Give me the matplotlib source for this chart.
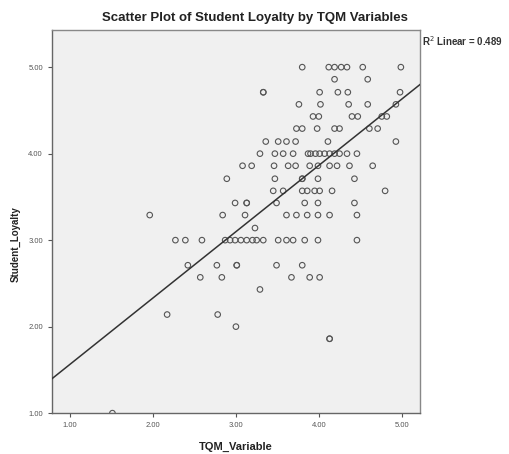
import numpy as np
import matplotlib
matplotlib.use("Agg")
import matplotlib.pyplot as plt

# Student loyalty levels (1/7 steps) and the TQM scores found on each level
loyalty_levels = [5.00, 4.86, 4.71, 4.57, 4.43, 4.29, 4.14, 4.00, 3.86, 3.71, 3.57,
                  3.43, 3.29, 3.14, 3.00, 2.71, 2.57, 2.43, 2.14, 2.00, 1.86, 1.00]
tqm_by_level = [
    [3.80, 4.12, 4.19, 4.27, 4.34, 4.53, 4.99],
    [4.19, 4.59],
    [3.33, 3.33, 4.01, 4.23, 4.35, 4.98],
    [3.76, 4.02, 4.36, 4.59, 4.93],
    [3.93, 4.00, 4.40, 4.47, 4.76, 4.82],
    [3.73, 3.80, 3.98, 4.19, 4.25, 4.61, 4.71],
    [3.36, 3.51, 3.61, 3.72, 4.11, 4.93],
    [3.29, 3.47, 3.57, 3.69, 3.87, 3.90, 3.96, 4.01, 4.07, 4.13, 4.19, 4.25, 4.34, 4.46],
    [3.08, 3.19, 3.46, 3.63, 3.72, 3.89, 3.99, 4.13, 4.22, 4.37, 4.65],
    [2.89, 3.47, 3.80, 3.80, 3.99, 4.43],
    [3.45, 3.57, 3.80, 3.86, 3.95, 4.01, 4.16, 4.80],
    [2.99, 3.13, 3.13, 3.49, 3.83, 3.99, 4.43],
    [1.96, 2.84, 3.11, 3.61, 3.73, 3.86, 3.99, 4.13, 4.46],
    [3.23],
    [2.27, 2.39, 2.59, 2.87, 2.93, 2.99, 3.06, 3.13, 3.20, 3.25, 3.33, 3.51, 3.61,
     3.69, 3.83, 3.99, 4.46],
    [2.42, 2.77, 3.01, 3.01, 3.49, 3.80],
    [2.57, 2.83, 3.67, 3.89, 4.01],
    [3.29],
    [2.17, 2.78],
    [3.00],
    [4.13, 4.13],
    [1.51],
]

# Fit line
fit_intercept = 0.80
fit_slope = 0.766
r_squared = 0.489

x_ticks = [1, 2, 3, 4, 5]
y_ticks = [1, 2, 3, 4, 5]

tqm = np.concatenate([np.array(v) for v in tqm_by_level])
loyalty = np.concatenate([np.full(len(v), lv) for v, lv in zip(tqm_by_level, loyalty_levels)])

plt.rcParams['font.family'] = ['Liberation Sans', 'DejaVu Sans']

fig = plt.figure(figsize=(5.09, 4.54), dpi=100)
ax = fig.add_axes([0.102, 0.090, 0.723, 0.844])
ax.set_facecolor('#f0f0f0')

ax.scatter(tqm, loyalty, s=16, facecolors='none', edgecolors='#555555',
           linewidths=0.8, zorder=3, clip_on=True)

x_lo, x_hi = 0.78, 5.22
xs = np.array([x_lo, x_hi])
ax.plot(xs, fit_intercept + fit_slope * xs, color='#333333', lw=1.1, zorder=4)

ax.set_xlim(x_lo, x_hi)
ax.set_ylim(1.0, 5.43)
ax.set_xticks(x_ticks)
ax.set_yticks(y_ticks)
ax.set_xticklabels([f"{t:.2f}" for t in x_ticks])
ax.set_yticklabels([f"{t:.2f}" for t in y_ticks])
ax.tick_params(axis='both', labelsize=5.5, labelcolor='#555555', color='#555555',
               length=3, width=0.8, direction='out')

for side in ['left', 'bottom', 'right', 'top']:
    ax.spines[side].set_color('#888888')
    ax.spines[side].set_linewidth(1.0)
ax.spines['left'].set_color('#666666')
ax.spines['bottom'].set_color('#666666')

# title is centred on the whole picture, not the plot frame
fig.text(0.5, 0.96, 'Scatter Plot of Student Loyalty by TQM Variables',
         fontsize=9.5, fontweight='bold', color='#222222', ha='center', va='center')
ax.set_xlabel('TQM_Variable', fontsize=8, fontweight='bold', color='#222222', labelpad=9)
ax.set_ylabel('Student_Loyalty', fontsize=7, fontweight='bold', color='#222222')
ax.yaxis.set_label_coords(-0.085, 0.44)

ax.text(1.005, 0.99, f"R$^2$ Linear = {r_squared:.3f}", transform=ax.transAxes,
        fontsize=7, fontweight='bold', color='#333333', ha='left', va='top')

fig.savefig('out.png', dpi=100)
